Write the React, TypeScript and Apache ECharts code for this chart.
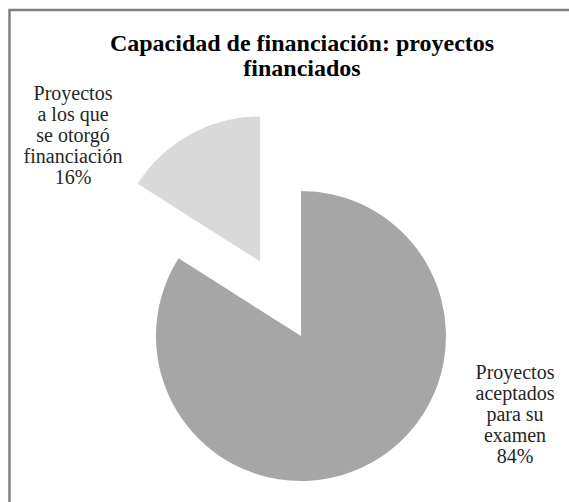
import React, { useEffect, useRef } from "react";
import * as echarts from "echarts";

const titleText = "Capacidad de financiación: proyectos\nfinanciados";
const categories = [
  "Proyectos\naceptados\npara su\nexamen",
  "Proyectos\na los que\nse otorgó\nfinanciación",
];
const values = [84, 16];
const colors = ["#a6a6a6", "#d9d9d9"];

const SERIF = "'Liberation Serif', 'Times New Roman', serif";

export default function App() {
  const ref = useRef<HTMLDivElement>(null);
  useEffect(() => {
    if (!ref.current) return;
    const chart = echarts.init(ref.current, undefined, { renderer: "svg" });
    const total = values.reduce((a, b) => a + b, 0);
    const pct = (i: number) => Math.round((values[i] / total) * 100);
    const labelStyle = {
      fontFamily: SERIF,
      fontSize: 20,
      lineHeight: 21,
      color: "#262626",
    };
    chart.setOption({
      animation: false,
      backgroundColor: "#ffffff",
      title: {
        text: titleText,
        left: 297,
        top: 25,
        textAlign: "center",
        textStyle: {
          fontFamily: SERIF,
          fontWeight: "bold",
          fontSize: 24,
          lineHeight: 25,
          color: "#000000",
        },
      },
      graphic: [
        {
          type: "rect",
          shape: { x: 9.5, y: 10, width: 700, height: 700 },
          style: { fill: "none", stroke: "#808080", lineWidth: 2.5 },
          silent: true,
        },
        {
          type: "text",
          x: 73,
          y: 135,
          silent: true,
          style: {
            text: `${categories[1]}\n${pct(1)}%`,
            align: "center",
            verticalAlign: "middle",
            fill: labelStyle.color,
            font: `20px ${SERIF}`,
            lineHeight: 21,
          },
        },
      ],
      series: [
        {
          type: "pie",
          center: [301, 336],
          radius: 145,
          startAngle: 90,
          clockwise: true,
          selectedMode: "single",
          selectedOffset: 85,
          percentPrecision: 0,
          avoidLabelOverlap: false,
          labelLine: { show: false },
          emphasis: { disabled: true },
          label: {
            show: true,
            position: "outside",
            formatter: "{b}\n{d}%",
            ...labelStyle,
            align: "center",
          },
          labelLayout: (p: any) =>
            p.dataIndex === 0
              ? { x: 515, y: 414, align: "center", verticalAlign: "middle" }
              : {},
          data: categories.map((name, i) => ({
            name,
            value: values[i],
            selected: i === 1,
            itemStyle: { color: colors[i] },
            label: { show: i === 0 },
          })),
        },
      ],
    });
    return () => chart.dispose();
  }, []);
  return (
    <div
      ref={ref}
      style={{ position: "fixed", left: 0, top: 0, width: 569, height: 502 }}
    />
  );
}
